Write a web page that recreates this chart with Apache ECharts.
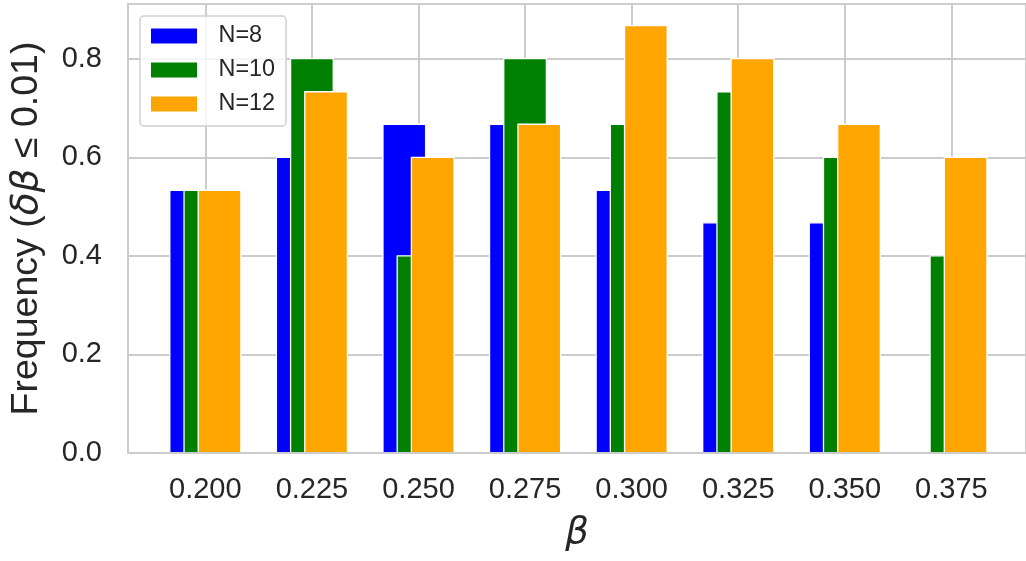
<!DOCTYPE html>
<html>
<head>
<meta charset="utf-8">
<script src="https://cdn.jsdelivr.net/npm/echarts@6/dist/echarts.min.js"></script>
<style>
  html, body { margin: 0; padding: 0; background: #fff; }
  #chart { width: 1026px; height: 561px; }
</style>
</head>
<body>
<div id="chart"></div>
<script>
// beta values (bar group positions) and frequency per system size
const beta = [0.200, 0.225, 0.250, 0.275, 0.300, 0.325, 0.350, 0.375];
const freqN8  = [0.533, 0.600, 0.667, 0.667, 0.533, 0.467, 0.467, 0.000];
const freqN10 = [0.533, 0.800, 0.400, 0.800, 0.667, 0.733, 0.600, 0.400];
const freqN12 = [0.533, 0.733, 0.600, 0.667, 0.867, 0.800, 0.667, 0.600];
const seriesNames = ['N=8', 'N=10', 'N=12'];
const yTicks = [0, 0.2, 0.4, 0.6, 0.8];

const BAR_W = 0.01;           // bar width in beta units
const SHIFT = BAR_W / 3;      // horizontal shift between overlapping series
const colors = ['#0000ff', '#008000', '#ffa500'];
const TEXT = '#262626';
const GRID = '#cccccc';
const SANS = "'Liberation Sans', Arial, sans-serif";
const MATH = "'DejaVu Sans', sans-serif";

function barSeries(name, values, offset, color) {
  return {
    name: name,
    type: 'custom',
    xAxisIndex: 0,
    yAxisIndex: 0,
    itemStyle: { color: color },
    data: beta.map((b, i) => [b, values[i]]),
    renderItem: function (params, api) {
      const x = api.value(0), y = api.value(1);
      const p0 = api.coord([x + offset - BAR_W / 2, y]);
      const p1 = api.coord([x + offset + BAR_W / 2, 0]);
      return {
        type: 'rect',
        shape: { x: p0[0], y: p0[1], width: p1[0] - p0[0], height: p1[1] - p0[1] },
        style: { fill: color, stroke: '#ffffff', lineWidth: 1.3 }
      };
    }
  };
}

const chart = echarts.init(document.getElementById('chart'), null, { renderer: 'canvas' });
chart.setOption({
  animation: false,
  backgroundColor: '#ffffff',
  grid: {
    left: 128, top: 4, width: 900, height: 449,
    show: true, borderColor: GRID, borderWidth: 2, backgroundColor: 'transparent'
  },
  legend: {
    left: 140, top: 16, orient: 'vertical',
    data: seriesNames.map(n => ({ name: n, icon: 'rect' })),
    itemWidth: 46, itemHeight: 15, itemGap: 6,
    padding: [6, 11, 8, 11],
    backgroundColor: 'rgba(255,255,255,0.8)',
    borderColor: '#d0d0d0', borderWidth: 1.5, borderRadius: 4,
    textStyle: { fontFamily: SANS, fontSize: 23.4, color: TEXT, lineHeight: 28, padding: [0, 0, 0, 16.5] }
  },
  xAxis: [
    {
      type: 'value', min: 0.18186, max: 0.3925,
      name: 'β', nameLocation: 'middle', nameGap: 62,
      nameTextStyle: { fontFamily: MATH, fontStyle: 'italic', fontSize: 37, color: TEXT },
      axisLine: { show: false },
      axisTick: { show: false, customValues: beta },
      axisLabel: {
        customValues: beta, margin: 22,
        formatter: v => v.toFixed(3),
        fontFamily: SANS, fontSize: 29, color: TEXT
      },
      splitLine: { show: true, lineStyle: { color: GRID, width: 2 } }
    },
    {
      // bottom spine drawn above the bars
      type: 'value', min: 0.18186, max: 0.3925, position: 'bottom', z: 10,
      axisLine: { show: true, lineStyle: { color: GRID, width: 2 } },
      axisTick: { show: false }, axisLabel: { show: false }, splitLine: { show: false }
    }
  ],
  yAxis: {
    type: 'value', min: 0, max: 0.911,
    name: 'Frequency ({i|δβ} ≤ 0.01)', nameLocation: 'middle', nameRotate: 90, nameGap: 82,
    nameTextStyle: {
      fontFamily: SANS, fontSize: 37.5, color: TEXT,
      rich: { i: { fontFamily: MATH, fontStyle: 'italic', fontSize: 37.5, color: TEXT } }
    },
    axisLine: { show: false },
    axisTick: { show: false, customValues: yTicks },
    axisLabel: {
      customValues: yTicks, margin: 26,
      formatter: v => v.toFixed(1),
      fontFamily: SANS, fontSize: 29, color: TEXT
    },
    splitLine: { show: true, lineStyle: { color: GRID, width: 2 } }
  },
  series: [
    barSeries(seriesNames[0], freqN8, -SHIFT, colors[0]),
    barSeries(seriesNames[1], freqN10, 0, colors[1]),
    barSeries(seriesNames[2], freqN12, SHIFT, colors[2])
  ]
});
</script>
</body>
</html>
